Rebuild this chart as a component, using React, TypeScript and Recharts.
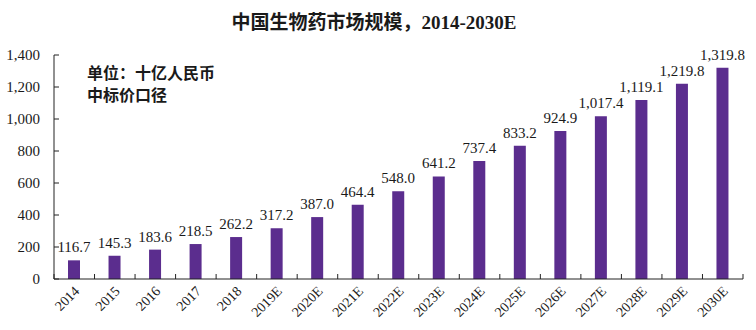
import React from 'react';
import { BarChart, Bar, XAxis, YAxis, LabelList } from 'recharts';

const categories = ['2014', '2015', '2016', '2017', '2018', '2019E', '2020E', '2021E', '2022E', '2023E', '2024E', '2025E', '2026E', '2027E', '2028E', '2029E', '2030E'];
const marketSize = [116.7, 145.3, 183.6, 218.5, 262.2, 317.2, 387.0, 464.4, 548.0, 641.2, 737.4, 833.2, 924.9, 1017.4, 1119.1, 1219.8, 1319.8];
const yTicks = [0, 200, 400, 600, 800, 1000, 1200, 1400];

const data = categories.map((c, i) => ({ year: c, value: marketSize[i] }));

const SERIF = "'Liberation Serif', 'Times New Roman', 'Noto Sans CJK SC', serif";
const TEXT = '#1a1a1a';
const AXIS = '#222';
const BAR = '#5b2d8e';

const fmtInt = (v: number) => v.toLocaleString('en-US');
const fmtOne = (v: number) => v.toLocaleString('en-US', { minimumFractionDigits: 1, maximumFractionDigits: 1 });

const YTick = (props: any) => {
  const { x, y, payload } = props;
  return (
    <g>
      <line x1={x} x2={x + 5} y1={y} y2={y} stroke={AXIS} strokeWidth={1} />
      <text x={x - 14} y={y} dy={5} textAnchor="end" fontFamily={SERIF} fontSize={15} fill={TEXT}>
        {fmtInt(payload.value)}
      </text>
    </g>
  );
};

const XTick = (props: any) => {
  const { x, y, payload, index, visibleTicksCount, width } = props;
  const half = payload && payload.offset ? payload.offset : width / visibleTicksCount / 2;
  const isLast = index === visibleTicksCount - 1;
  return (
    <g>
      <line x1={x - half} x2={x - half} y1={y} y2={y - 5} stroke={AXIS} strokeWidth={1} />
      {isLast && <line x1={x + half} x2={x + half} y1={y} y2={y - 5} stroke={AXIS} strokeWidth={1} />}
      <text
        x={x + 6}
        y={y + 13}
        textAnchor="end"
        fontFamily={SERIF}
        fontSize={14}
        fill={TEXT}
        transform={`rotate(-45, ${x + 6}, ${y + 13})`}
      >
        {payload.value}
      </text>
    </g>
  );
};

export default function App() {
  return (
    <div style={{ position: 'absolute', left: 0, top: 0, width: 756, height: 330, background: '#fff' }}>
      <div
        style={{
          position: 'absolute',
          left: 0,
          width: 748,
          top: 10,
          textAlign: 'center',
          fontFamily: SERIF,
          fontWeight: 'bold',
          fontSize: 19,
          color: TEXT,
          lineHeight: '26px',
        }}
      >
        中国生物药市场规模，2014-2030E
      </div>
      <div
        style={{
          position: 'absolute',
          left: 87,
          top: 63,
          fontFamily: SERIF,
          fontWeight: 'bold',
          fontSize: 16,
          color: TEXT,
          lineHeight: '22px',
        }}
      >
        <div>单位：十亿人民币</div>
        <div>中标价口径</div>
      </div>
      <BarChart
        width={756}
        height={330}
        data={data}
        margin={{ top: 55, right: 13, bottom: 0, left: 0 }}
        style={{ position: 'absolute', left: 0, top: 0 }}
      >
        <XAxis
          dataKey="year"
          height={51}
          axisLine={{ stroke: AXIS, strokeWidth: 1 }}
          tickLine={false}
          tickSize={0}
          tickMargin={0}
          interval={0}
          tick={<XTick />}
        />
        <YAxis
          width={54}
          domain={[0, 1400]}
          ticks={yTicks}
          axisLine={{ stroke: AXIS, strokeWidth: 1 }}
          tickLine={false}
          tickSize={0}
          tickMargin={0}
          interval={0}
          tick={<YTick />}
        />
        <Bar dataKey="value" fill={BAR} barSize={12} isAnimationActive={false}>
          <LabelList
            dataKey="value"
            position="top"
            offset={8}
            formatter={(v: any) => fmtOne(Number(v))}
            style={{ fontFamily: SERIF, fontSize: 15, fill: TEXT }}
          />
        </Bar>
      </BarChart>
    </div>
  );
}
